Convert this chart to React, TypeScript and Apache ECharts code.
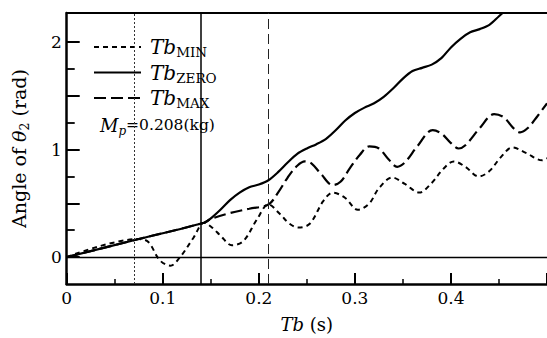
import React, { useEffect, useRef } from "react";
import * as echarts from "echarts";

// ---- data (time in s, angle in rad) ----
const minTime = [0, 0.075, 0.085, 0.097, 0.108, 0.118, 0.132, 0.143, 0.152, 0.16, 0.172, 0.184, 0.198, 0.21, 0.222, 0.232, 0.241, 0.253, 0.267, 0.277, 0.29, 0.303, 0.315, 0.325, 0.339, 0.352, 0.367, 0.38, 0.392, 0.403, 0.415, 0.429, 0.44, 0.452, 0.464, 0.478, 0.495, 0.5];
const minAngle = [0, 0.168, 0.14, -0.03, -0.08, 0.0, 0.18, 0.32, 0.27, 0.2, 0.11, 0.15, 0.35, 0.49, 0.4, 0.31, 0.275, 0.31, 0.52, 0.6, 0.55, 0.44, 0.5, 0.64, 0.74, 0.68, 0.6, 0.69, 0.82, 0.89, 0.84, 0.75, 0.8, 0.93, 1.02, 0.97, 0.9, 0.92];

const zeroTime = [0, 0.075, 0.143, 0.15, 0.16, 0.17, 0.18, 0.19, 0.2, 0.21, 0.22, 0.23, 0.24, 0.25, 0.26, 0.27, 0.28, 0.29, 0.3, 0.31, 0.32, 0.33, 0.34, 0.35, 0.36, 0.37, 0.38, 0.39, 0.4, 0.41, 0.42, 0.43, 0.44, 0.45, 0.46];
const zeroAngle = [0, 0.168, 0.32, 0.36, 0.44, 0.53, 0.6, 0.65, 0.675, 0.715, 0.79, 0.88, 0.96, 1.01, 1.05, 1.1, 1.18, 1.27, 1.34, 1.39, 1.43, 1.49, 1.57, 1.66, 1.73, 1.76, 1.79, 1.85, 1.95, 2.03, 2.09, 2.12, 2.16, 2.24, 2.32];

const maxTime = [0, 0.075, 0.143, 0.15, 0.17, 0.19, 0.21, 0.22, 0.23, 0.24, 0.248, 0.255, 0.265, 0.277, 0.285, 0.295, 0.305, 0.315, 0.325, 0.335, 0.344, 0.352, 0.365, 0.381, 0.39, 0.4, 0.408, 0.415, 0.43, 0.445, 0.455, 0.465, 0.472, 0.48, 0.49, 0.5];
const maxAngle = [0, 0.168, 0.32, 0.355, 0.41, 0.45, 0.49, 0.6, 0.74, 0.85, 0.89, 0.87, 0.77, 0.67, 0.7, 0.83, 0.95, 1.03, 1.01, 0.91, 0.84, 0.88, 1.03, 1.18, 1.15, 1.06, 1.01, 1.04, 1.2, 1.33, 1.3, 1.2, 1.16, 1.2, 1.31, 1.43];

const seriesNames = ["MIN", "ZERO", "MAX"];
const switchTimes = [0.075, 0.143, 0.21];
const yMajorTicks = [0, 0.5, 1, 1.5, 2];
const yMinorTicks = [0.25, 0.75, 1.25, 1.75];
const yLabelValues = [0, 1, 2];
const massText = "0.208(kg)";

const FONT = "DejaVu Serif";

const zip = (xs: number[], ys: number[]) => xs.map((x, i) => [x, ys[i]]);

export default function App() {
  const ref = useRef<HTMLDivElement>(null);
  useEffect(() => {
    if (!ref.current) return;
    const chart = echarts.init(ref.current, null, { renderer: "svg" });
    const black = "#000";
    const option: any = {
      animation: false,
      backgroundColor: "#fff",
      textStyle: { fontFamily: FONT },
      grid: { left: 66, top: 13, width: 482.5, height: 274 },
      xAxis: [
        {
          type: "value",
          min: 0,
          max: 0.5,
          interval: 0.1,
          axisLine: { show: true, onZero: false, lineStyle: { color: black, width: 2.5 } },
          axisTick: { show: true, inside: true, length: 11, lineStyle: { color: black, width: 2 } },
          minorTick: { show: true, splitNumber: 2, length: 5, lineStyle: { color: black, width: 1.5 } },
          splitLine: { show: false },
          axisLabel: {
            color: black,
            fontFamily: FONT,
            fontSize: 17,
            margin: 5,
            showMaxLabel: false,
            formatter: (v: number) => (v === 0 ? "0" : v.toFixed(1)),
          },
          name: "{i|Tb} (s)",
          nameLocation: "middle",
          nameGap: 31,
          nameTextStyle: {
            color: black,
            fontFamily: FONT,
            fontSize: 18,
            rich: { i: { fontFamily: FONT, fontSize: 18, fontStyle: "italic", color: black } },
          },
        },
        {
          type: "value",
          position: "top",
          min: 0,
          max: 0.5,
          axisLine: { show: true, onZero: false, lineStyle: { color: black, width: 2 } },
          axisTick: { show: false },
          axisLabel: { show: false },
          splitLine: { show: false },
        },
      ],
      yAxis: [
        {
          type: "value",
          min: -0.25,
          max: 2.27,
          axisLine: { show: true, onZero: false, lineStyle: { color: black, width: 2.5 } },
          axisTick: { show: true, inside: true, length: 13, customValues: yMajorTicks, lineStyle: { color: black, width: 2 } },
          axisLabel: { color: black, fontFamily: FONT, fontSize: 17, margin: 5, customValues: yLabelValues },
          splitLine: { show: false },
          name: "{a|Angle of }{t|θ}{s|2}{a| (rad)}",
          nameLocation: "middle",
          nameRotate: 90,
          nameGap: 29,
          nameTextStyle: {
            color: black,
            fontFamily: FONT,
            fontSize: 19,
            rich: {
              a: { fontFamily: FONT, fontSize: 19, color: black, lineHeight: 22, height: 22, verticalAlign: "top" },
              t: { fontFamily: FONT, fontSize: 19, fontStyle: "italic", color: black, lineHeight: 22, height: 22, verticalAlign: "top" },
              s: { fontFamily: FONT, fontSize: 12.5, color: black, lineHeight: 22, height: 32, verticalAlign: "top" },
            },
          },
        },
        {
          type: "value",
          min: -0.25,
          max: 2.27,
          position: "left",
          axisLine: { show: false },
          axisTick: { show: true, inside: true, length: 8, customValues: yMinorTicks, lineStyle: { color: black, width: 1.8 } },
          axisLabel: { show: false },
          splitLine: { show: false },
        },
      ],
      legend: {
        orient: "vertical",
        left: 88,
        top: 32,
        itemWidth: 47,
        itemHeight: 1,
        itemGap: 3.5,
        data: seriesNames,
        formatter: (name: string) => `{i|Tb}{s|${name}}`,
        textStyle: {
          color: black,
          fontFamily: FONT,
          rich: {
            i: { fontFamily: FONT, fontSize: 20, fontStyle: "italic", color: black, lineHeight: 24, verticalAlign: "middle", padding: [0, 0, 0, 4] },
            s: { fontFamily: FONT, fontSize: 13.5, color: black, lineHeight: 24, verticalAlign: "bottom" },
          },
        },
      },
      graphic: [
        {
          type: "text",
          left: 100,
          top: 113,
          style: {
            text: `{i|M}{p|p}{r|=${massText}}`,
            rich: {
              i: { fontFamily: FONT, fontSize: 18, fontStyle: "italic", fill: black, lineHeight: 24, height: 24, verticalAlign: "top" },
              p: { fontFamily: FONT, fontSize: 12, fontStyle: "italic", fill: black, lineHeight: 24, height: 36, verticalAlign: "top" },
              r: { fontFamily: FONT, fontSize: 15.5, fill: black, lineHeight: 24, height: 24, verticalAlign: "top" },
            },
          },
        },
      ],
      series: [
        {
          name: "MIN",
          type: "line",
          data: zip(minTime, minAngle),
          symbol: "none",
          smooth: 0.35,
          lineStyle: { color: black, width: 2, type: [5, 4] },
          itemStyle: { color: black },
          z: 3,
        },
        {
          name: "ZERO",
          type: "line",
          data: zip(zeroTime, zeroAngle),
          symbol: "none",
          smooth: 0.3,
          lineStyle: { color: black, width: 2.2, type: "solid" },
          itemStyle: { color: black },
          z: 3,
          markLine: {
            silent: true,
            symbol: "none",
            label: { show: false },
            data: [
              { xAxis: switchTimes[0], lineStyle: { color: "#333", width: 1, type: [2, 2] } },
              { xAxis: switchTimes[1], lineStyle: { color: black, width: 1.5, type: "solid" } },
              { xAxis: switchTimes[2], lineStyle: { color: "#222", width: 1, type: [10, 5] } },
              { yAxis: 0, lineStyle: { color: black, width: 1.3, type: "solid" } },
            ],
          },
        },
        {
          name: "MAX",
          type: "line",
          data: zip(maxTime, maxAngle),
          symbol: "none",
          smooth: 0.35,
          lineStyle: { color: black, width: 2.2, type: [12, 5] },
          itemStyle: { color: black },
          z: 3,
        },
      ],
    };
    chart.setOption(option);
    return () => chart.dispose();
  }, []);
  return (
    <div
      ref={ref}
      style={{ position: "absolute", left: 0, top: 0, width: 547, height: 338, background: "#fff" }}
    />
  );
}
